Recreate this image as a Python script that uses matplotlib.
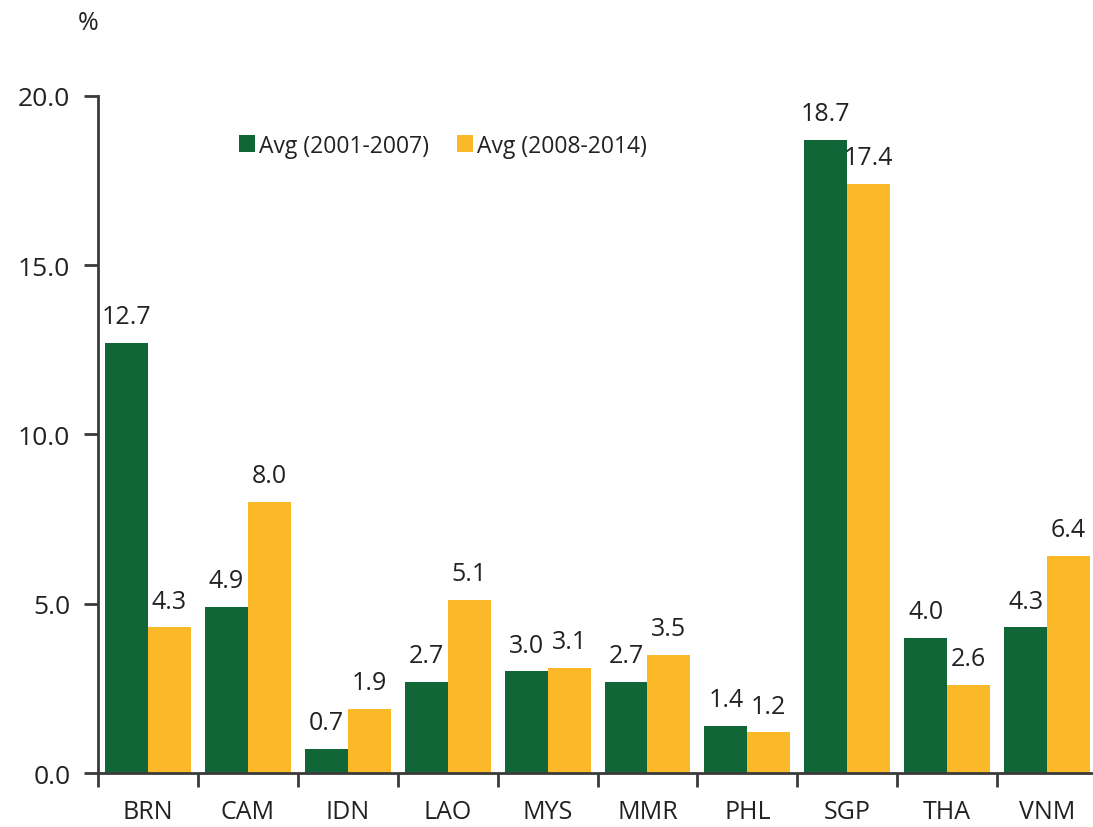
import matplotlib.pyplot as plt
import numpy as np

plt.rcParams['font.family'] = ['Open Sans', 'DejaVu Sans']

countries = ['BRN', 'CAM', 'IDN', 'LAO', 'MYS', 'MMR', 'PHL', 'SGP', 'THA', 'VNM']
avg_0107 = [12.7, 4.9, 0.7, 2.7, 3.0, 2.7, 1.4, 18.7, 4.0, 4.3]
avg_0814 = [4.3, 8.0, 1.9, 5.1, 3.1, 3.5, 1.2, 17.4, 2.6, 6.4]

green = '#116638'
yellow = '#FBB829'
spine_col = '#3a3a3a'

fig = plt.figure(figsize=(10.93, 8.28), dpi=100)
ax = fig.add_axes([0.0897, 0.0652, 0.914, 0.8177])

x = np.arange(len(countries))
w = 0.43
b1 = ax.bar(x - w / 2, avg_0107, w, color=green, label='Avg (2001-2007)')
b2 = ax.bar(x + w / 2, avg_0814, w, color=yellow, label='Avg (2008-2014)')

for bars, vals in ((b1, avg_0107), (b2, avg_0814)):
    for r, v in zip(bars, vals):
        ax.annotate(f'{v:.1f}', (r.get_x() + r.get_width() / 2, r.get_height()),
                    xytext=(0, 10), textcoords='offset points',
                    ha='center', va='bottom', fontsize=18, color='#222222')

ax.set_xlim(-0.5, 9.5)
ax.set_ylim(0, 20)
ax.set_yticks([0, 5, 10, 15, 20])
ax.set_yticklabels([f'{t:.1f}' for t in [0, 5, 10, 15, 20]])
ax.set_xticks(np.arange(-0.5, 10, 1.0))
ax.set_xticklabels([])
ax.set_xticks(x, minor=True)
ax.set_xticklabels(countries, minor=True)
ax.tick_params(axis='x', which='minor', length=0, pad=19, labelsize=18, labelcolor='#222222')
ax.tick_params(axis='x', which='major', length=10, width=2, color=spine_col, direction='out')
ax.tick_params(axis='y', length=10, width=2, color=spine_col, labelsize=19, pad=10, labelcolor='#222222')

for s in ['top', 'right']:
    ax.spines[s].set_visible(False)
for s in ['left', 'bottom']:
    ax.spines[s].set_color(spine_col)
    ax.spines[s].set_linewidth(2)

ax.legend(loc='upper left', bbox_to_anchor=(0.12, 0.975), ncol=2, frameon=False,
          fontsize=16.5, handlelength=0.7, handleheight=0.7, handletextpad=0.2,
          columnspacing=1.2, labelcolor='#222222')

fig.text(0.081, 0.972, '%', fontsize=18, ha='center', va='center', color='#222222')

fig.savefig('out.png', dpi=100)
